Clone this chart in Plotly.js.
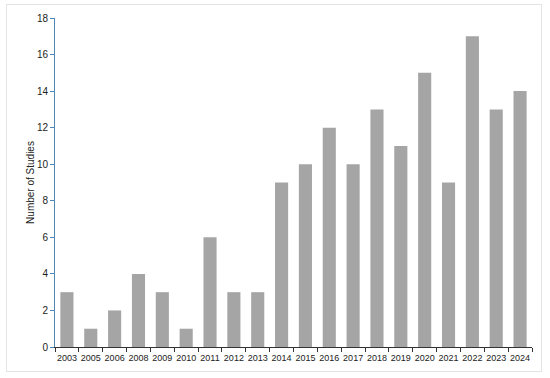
<!DOCTYPE html>
<html>
<head>
<meta charset="utf-8">
<script src="https://cdn.plot.ly/plotly-3.0.1.min.js"></script>
<style>
  body { margin: 0; background: #fff; }
  #frame { position: absolute; left: 6px; top: 4px; width: 536px; height: 368px; border: 1px solid #e4e4e4; box-sizing: border-box; pointer-events: none; }
</style>
</head>
<body>
<div id="chart" style="width:550px;height:378px;"></div>
<div id="frame"></div>
<script>
// studies per year
var years = ["2003","2005","2006","2008","2009","2010","2011","2012","2013","2014",
             "2015","2016","2017","2018","2019","2020","2021","2022","2023","2024"];
var studies = [3,1,2,4,3,1,6,3,3,9,10,12,10,13,11,15,9,17,13,14];

var trace = {
  x: years,
  y: studies,
  type: "bar",
  marker: { color: "#a5a5a5" },
  hoverinfo: "x+y"
};

var layout = {
  width: 550,
  height: 378,
  margin: { l: 55, r: 18, t: 18, b: 31 },
  paper_bgcolor: "#fff",
  plot_bgcolor: "#fff",
  bargap: 0.45,
  showlegend: false,
  font: { family: "Liberation Sans, Arial, sans-serif", size: 10, color: "#222" },
  xaxis: {
    type: "category",
    showgrid: false,
    showline: true,
    linecolor: "#333",
    linewidth: 1,
    ticks: "outside",
    tickson: "boundaries",
    ticklen: 4,
    tickcolor: "#333",
    tickangle: 0,
    ticklabelstandoff: 2,
    tickfont: { size: 9 }
  },
  yaxis: {
    title: { text: "Number of Studies", font: { size: 10 }, standoff: 0 },
    range: [0, 18],
    dtick: 2,
    showgrid: false,
    zeroline: false,
    showline: true,
    linecolor: "#4f86b5",
    linewidth: 1,
    ticks: "outside",
    ticklen: 4,
    tickcolor: "#4f86b5",
    tickfont: { size: 10 }
  }
};

Plotly.newPlot("chart", [trace], layout, { displayModeBar: false, staticPlot: true });
</script>
</body>
</html>
